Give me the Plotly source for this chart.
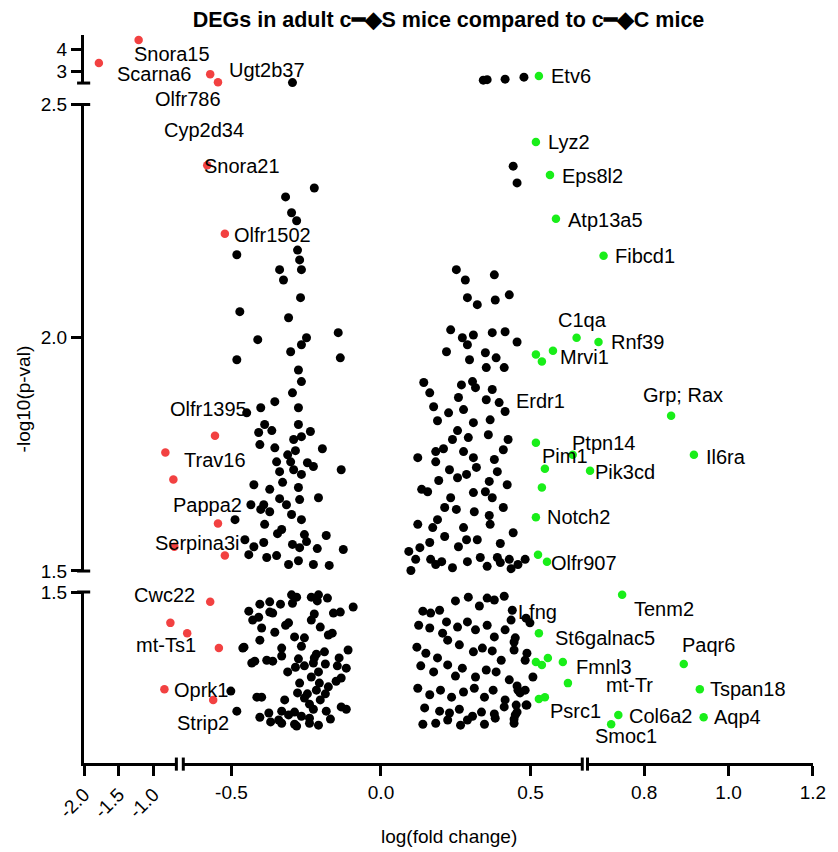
import plotly.graph_objects as go

FONT = "Liberation Sans, Arial, sans-serif"

# ---------------- data (log fold change, -log10 p) ----------------
black_left = [
    (-0.296, 2.52),
    (-0.223, 2.321), (-0.319, 2.302), (-0.299, 2.268), (-0.282, 2.251), (-0.482, 2.178), (-0.279, 2.188), (-0.272, 2.167), (-0.339, 2.146), (-0.326, 2.124), (-0.266, 2.146),
    (-0.269, 2.086), (-0.143, 2.011), (-0.472, 2.056), (-0.309, 2.043), (-0.412, 1.996), (-0.249, 2.000), (-0.482, 1.953), (-0.266, 1.985), (-0.302, 1.970), (-0.276, 1.931),
    (-0.266, 1.906), (-0.136, 1.957), (-0.296, 1.882), (-0.355, 1.863), (-0.402, 1.850), (-0.276, 1.850), (-0.449, 1.839), (-0.389, 1.814), (-0.409, 1.797), (-0.276, 1.814),
    (-0.365, 1.801), (-0.292, 1.782), (-0.266, 1.788), (-0.405, 1.771), (-0.355, 1.764), (-0.349, 1.734), (-0.236, 1.799), (-0.312, 1.749), (-0.286, 1.758), (-0.302, 1.734),
    (-0.196, 1.762), (-0.246, 1.732), (-0.266, 1.707), (-0.339, 1.713), (-0.292, 1.717), (-0.226, 1.724), (-0.133, 1.717), (-0.329, 1.690), (-0.372, 1.675), (-0.425, 1.685),
    (-0.276, 1.679), (-0.272, 1.653), (-0.392, 1.642), (-0.339, 1.655), (-0.316, 1.642), (-0.209, 1.657), (-0.488, 1.610), (-0.435, 1.642), (-0.402, 1.632), (-0.372, 1.627),
    (-0.299, 1.621), (-0.266, 1.610), (-0.389, 1.600), (-0.256, 1.578), (-0.346, 1.580), (-0.332, 1.589), (-0.455, 1.567), (-0.392, 1.561), (-0.425, 1.552), (-0.296, 1.557),
    (-0.272, 1.550), (-0.249, 1.563), (-0.213, 1.548), (-0.183, 1.576), (-0.126, 1.546), (-0.442, 1.535), (-0.382, 1.529), (-0.349, 1.533), (-0.309, 1.514), (-0.276, 1.522),
    (-0.226, 1.514), (-0.173, 1.512),
    (-0.282, 1.489), (-0.296, 1.476), (-0.213, 1.481), (-0.179, 1.487), (-0.405, 1.474), (-0.442, 1.459), (-0.372, 1.457), (-0.336, 1.474), (-0.309, 1.434), (-0.223, 1.453),
    (-0.233, 1.440), (-0.203, 1.425), (-0.136, 1.457), (-0.319, 1.429), (-0.256, 1.402), (-0.289, 1.404), (-0.355, 1.414), (-0.163, 1.412), (-0.429, 1.440), (-0.399, 1.423),
    (-0.405, 1.397), (-0.458, 1.382), (-0.332, 1.380), (-0.266, 1.384), (-0.216, 1.367), (-0.332, 1.363), (-0.276, 1.357), (-0.223, 1.359), (-0.189, 1.372), (-0.140, 1.359),
    (-0.422, 1.352), (-0.382, 1.354), (-0.362, 1.352), (-0.286, 1.339), (-0.256, 1.342), (-0.226, 1.348), (-0.209, 1.329), (-0.186, 1.346), (-0.146, 1.342), (-0.312, 1.329),
    (-0.272, 1.305), (-0.233, 1.318), (-0.216, 1.290), (-0.206, 1.305), (-0.279, 1.284), (-0.246, 1.282), (-0.502, 1.288), (-0.415, 1.275), (-0.399, 1.275), (-0.482, 1.245),
    (-0.375, 1.241), (-0.332, 1.245), (-0.289, 1.243), (-0.266, 1.234), (-0.226, 1.249), (-0.183, 1.245), (-0.133, 1.254), (-0.116, 1.249), (-0.342, 1.226), (-0.309, 1.237),
    (-0.239, 1.230), (-0.169, 1.228), (-0.239, 1.219), (-0.289, 1.217), (-0.369, 1.222), (-0.405, 1.232), (-0.256, 1.273), (-0.239, 1.260), (-0.203, 1.269), (-0.322, 1.269),
    (-0.186, 1.282), (-0.150, 1.309), (-0.176, 1.297), (-0.133, 1.316), (-0.462, 1.380),
    (-0.372, 1.479), (-0.299, 1.494), (-0.233, 1.489), (-0.209, 1.494), (-0.093, 1.468), (-0.362, 1.455), (-0.159, 1.455), (-0.432, 1.348), (-0.116, 1.337), (-0.110, 1.376),
    (-0.176, 1.408), (-0.409, 1.446), (-0.332, 1.219), (-0.282, 1.213), (-0.209, 1.215),
]

black_right = [
    (0.342, 2.63), (0.355, 2.65), (0.415, 2.674), (0.478, 2.763),
    (0.442, 2.368), (0.455, 2.332), (0.252, 2.146), (0.282, 2.124), (0.379, 2.135), (0.289, 2.086), (0.322, 2.071), (0.382, 2.081), (0.429, 2.092), (0.233, 2.017),
    (0.309, 2.006), (0.272, 2.000), (0.372, 2.011), (0.415, 2.013), (0.289, 1.985), (0.219, 1.970), (0.349, 1.968), (0.455, 1.991), (0.296, 1.953), (0.352, 1.936),
    (0.385, 1.957), (0.412, 1.936), (0.143, 1.904), (0.163, 1.882), (0.269, 1.899), (0.306, 1.906), (0.316, 1.893), (0.176, 1.852), (0.259, 1.872), (0.352, 1.867),
    (0.395, 1.861), (0.372, 1.889), (0.226, 1.839), (0.276, 1.846), (0.189, 1.822), (0.309, 1.818), (0.256, 1.801), (0.365, 1.824), (0.415, 1.842), (0.239, 1.782),
    (0.292, 1.786), (0.359, 1.792), (0.183, 1.756), (0.209, 1.762), (0.123, 1.743), (0.183, 1.734), (0.276, 1.756), (0.309, 1.743), (0.379, 1.739), (0.409, 1.760),
    (0.425, 1.782), (0.229, 1.717), (0.256, 1.700), (0.286, 1.707), (0.319, 1.722), (0.362, 1.692), (0.389, 1.713), (0.193, 1.694), (0.136, 1.675), (0.156, 1.670),
    (0.233, 1.657), (0.309, 1.668), (0.349, 1.670), (0.372, 1.657), (0.422, 1.685), (0.213, 1.636), (0.252, 1.632), (0.312, 1.627), (0.362, 1.619), (0.409, 1.636),
    (0.189, 1.610), (0.123, 1.600), (0.276, 1.593), (0.365, 1.600), (0.173, 1.593), (0.286, 1.567), (0.213, 1.574), (0.130, 1.550), (0.163, 1.561), (0.093, 1.542),
    (0.259, 1.552), (0.322, 1.567), (0.399, 1.559), (0.442, 1.582), (0.116, 1.525), (0.100, 1.501), (0.166, 1.525), (0.203, 1.520), (0.239, 1.507), (0.289, 1.520),
    (0.332, 1.529), (0.389, 1.529), (0.458, 1.514), (0.429, 1.525), (0.482, 1.525), (0.183, 1.514), (0.355, 1.510), (0.399, 1.518), (0.435, 1.505),
    (0.140, 1.459), (0.166, 1.455), (0.196, 1.461), (0.219, 1.436), (0.249, 1.481), (0.292, 1.489), (0.329, 1.470), (0.355, 1.487), (0.379, 1.483), (0.412, 1.491),
    (0.439, 1.461), (0.485, 1.444), (0.126, 1.429), (0.163, 1.423), (0.206, 1.412), (0.256, 1.425), (0.289, 1.436), (0.316, 1.419), (0.355, 1.429), (0.379, 1.404),
    (0.415, 1.419), (0.449, 1.402), (0.120, 1.382), (0.150, 1.369), (0.189, 1.359), (0.223, 1.397), (0.262, 1.387), (0.309, 1.372), (0.339, 1.380), (0.372, 1.374),
    (0.402, 1.354), (0.445, 1.376), (0.482, 1.354), (0.133, 1.342), (0.176, 1.329), (0.223, 1.344), (0.249, 1.320), (0.272, 1.337), (0.316, 1.318), (0.352, 1.333),
    (0.385, 1.329), (0.429, 1.312), (0.458, 1.290), (0.123, 1.294), (0.163, 1.280), (0.199, 1.290), (0.236, 1.275), (0.276, 1.286), (0.312, 1.294), (0.346, 1.275),
    (0.375, 1.290), (0.415, 1.269), (0.146, 1.252), (0.196, 1.245), (0.229, 1.241), (0.262, 1.249), (0.306, 1.234), (0.336, 1.243), (0.379, 1.239), (0.412, 1.254),
    (0.449, 1.237), (0.488, 1.258), (0.140, 1.217), (0.183, 1.219), (0.223, 1.226), (0.266, 1.215), (0.289, 1.226), (0.346, 1.217), (0.382, 1.230), (0.445, 1.228),
    (0.482, 1.290), (0.452, 1.258), (0.435, 1.440), (0.498, 1.434), (0.445, 1.393), (0.488, 1.369), (0.508, 1.318), (0.455, 1.299), (0.465, 1.284), (0.485, 1.258),
    (0.455, 1.243), (0.445, 1.219),
]

red_pts = [
    (-1.214, 4.415), (-1.786, 3.388), (-0.571, 2.897), (-0.545, 2.54), (-0.581, 2.370), (-0.522, 2.223),
    (-0.555, 1.790), (-0.829, 1.754), (-0.714, 1.696), (-0.545, 1.602), (-0.700, 1.552), (-0.522, 1.533),
    (-0.571, 1.479), (-0.757, 1.434), (-0.648, 1.412), (-0.542, 1.380), (-0.843, 1.292), (-0.561, 1.269),
]

green_pts = [
    (0.528, 2.81), (0.518, 2.420), (0.565, 2.349), (0.585, 2.255), (0.704, 2.176), (0.654, 2.000),
    (0.692, 1.991), (0.575, 1.972), (0.518, 1.964), (0.538, 1.949), (0.864, 1.833), (0.518, 1.775),
    (0.641, 1.749), (0.548, 1.719), (0.538, 1.679), (0.672, 1.715), (0.918, 1.749), (0.518, 1.615),
    (0.525, 1.535), (0.555, 1.520), (0.748, 1.494), (0.528, 1.412), (0.518, 1.350), (0.538, 1.344),
    (0.558, 1.359), (0.608, 1.350), (0.894, 1.346), (0.625, 1.305), (0.932, 1.292), (0.528, 1.271),
    (0.548, 1.275), (0.739, 1.237), (0.722, 1.217), (0.941, 1.232),
]

# gene labels: (text, x, y) — left ones centred, right ones start at x
left_labels = [
    ("Snora15", -0.729, 3.79), ("Scarna6", -0.986, 2.897), ("Ugt2b37", -0.382, 3.076),
    ("Olfr786", -0.645, 2.5), ("Cyp2d34", -0.591, 2.445), ("Snora21", -0.465, 2.368),
    ("Olfr1502", -0.362, 2.221), ("Olfr1395", -0.578, 1.848), ("Trav16", -0.555, 1.737),
    ("Pappa2", -0.581, 1.642), ("Serpina3i", -0.615, 1.561), ("Cwc22", -0.843, 1.494),
    ("mt-Ts1", -0.814, 1.387), ("Oprk1", -0.601, 1.290), ("Strip2", -0.595, 1.219),
]
right_labels = [
    ("Etv6", 0.561, 2.80), ("Lyz2", 0.551, 2.420), ("Eps8l2", 0.598, 2.347), ("Atp13a5", 0.618, 2.253),
    ("Fibcd1", 0.727, 2.176), ("C1qa", 0.585, 2.039), ("Rnf39", 0.718, 1.991), ("Mrvi1", 0.591, 1.959),
    ("Erdr1", 0.445, 1.865), ("Grp; Rax", 0.793, 1.878), ("Ptpn14", 0.631, 1.775), ("Pim1", 0.532, 1.747),
    ("Il6ra", 0.941, 1.745), ("Pik3cd", 0.680, 1.713), ("Notch2", 0.548, 1.615), ("Olfr907", 0.561, 1.518),
    ("Tenm2", 0.772, 1.464), ("Lfng", 0.452, 1.457), ("St6galnac5", 0.575, 1.402), ("Paqr6", 0.885, 1.387),
    ("Fmnl3", 0.645, 1.339), ("mt-Tr", 0.704, 1.301), ("Tspan18", 0.951, 1.292), ("Psrc1", 0.558, 1.245),
    ("Col6a2", 0.760, 1.234), ("Aqp4", 0.962, 1.232), ("Smoc1", 0.678, 1.192),
]

# broken-axis segments
x_ranges = [(-2.0, -0.671), (-0.661, 0.673), (0.666, 1.2001)]
y_ranges = [(1.134, 1.5001), (1.4999, 2.5001), (2.5, 4.64)]
x_ticks = [([-2.0, -1.5, -1.0], ["-2.0", "-1.5", "-1.0"]),
           ([-0.5, 0.0, 0.5], ["-0.5", "0.0", "0.5"]),
           ([0.8, 1.0, 1.2], ["0.8", "1.0", "1.2"])]
y_ticks = [([1.5], ["1.5"]), ([1.5, 2.0, 2.5], ["1.5", "2.0", "2.5"]), ([3, 4], ["3", "4"])]
x_domains = [(0.0, 0.1267), (0.1362, 0.6835), (0.6907, 1.0)]
y_domains = [(0.0, 0.2349), (0.2637, 0.9045), (0.934, 1.0)]


def xseg(x):
    return 0 if x < -0.666 else (1 if x <= 0.670 else 2)


def yseg(y):
    return 2 if y >= 2.5 else (1 if y >= 1.5 else 0)


def axn(p, i):
    return p if i == 0 else f"{p}{i + 1}"


fig = go.Figure()


def add_points(pts, color, size):
    cells = {}
    for x, y in pts:
        cx, cy = cells.setdefault((xseg(x), yseg(y)), ([], []))
        cx.append(x)
        cy.append(y)
    for (i, j), (cx, cy) in cells.items():
        fig.add_trace(go.Scatter(
            x=cx, y=cy, mode="markers", xaxis=axn("x", i), yaxis=axn("y", j),
            marker=dict(color=color, size=size, line=dict(width=0)),
            cliponaxis=False, showlegend=False, hoverinfo="skip"))


add_points(black_left, "black", 9)
add_points(black_right, "black", 9)
add_points(red_pts, "#f24141", 8.5)
add_points(green_pts, "#19ee19", 8.5)

annotations = []
for txt, x, y in left_labels:
    i, j = xseg(x), yseg(y)
    annotations.append(dict(text=txt, x=x, y=y, xref=axn("x", i), yref=axn("y", j),
                            showarrow=False, xanchor="center", yanchor="middle",
                            yshift=-16 if txt == "Olfr786" else 0,
                            font=dict(family=FONT, size=20, color="black")))
for txt, x, y in right_labels:
    i, j = xseg(x), yseg(y)
    annotations.append(dict(text=txt, x=x, y=y, xref=axn("x", i), yref=axn("y", j),
                            showarrow=False, xanchor="left", yanchor="middle",
                            font=dict(family=FONT, size=20, color="black")))

annotations.append(dict(text="log(fold change)", x=0.5, y=-0.1003, xref="paper", yref="paper",
                        showarrow=False, xanchor="center", yanchor="middle",
                        font=dict(family=FONT, size=19, color="black")))
annotations.append(dict(text="-log10(p-val)", x=-0.0831, y=0.5, xref="paper", yref="paper",
                        showarrow=False, textangle=-90, xanchor="center", yanchor="middle",
                        font=dict(family=FONT, size=19, color="black")))

axis_style = dict(showline=True, linecolor="black", linewidth=3, ticks="outside",
                  ticklen=10, tickwidth=3, tickcolor="black", showgrid=False,
                  zeroline=False, fixedrange=True,
                  tickfont=dict(family=FONT, size=19, color="black"))

FIG_W, FIG_H = 838, 852
layout = dict(
    width=FIG_W, height=FIG_H,
    margin=dict(l=84, r=20, t=35, b=89),
    paper_bgcolor="white", plot_bgcolor="white",
    title=dict(text="<b>DEGs in adult c━◆S mice compared to c━◆C mice</b>",
               x=0.5, xref="paper", y=1 - 19 / FIG_H, yanchor="middle", yref="container",
               font=dict(family=FONT, size=21.5, color="black")),
    annotations=annotations,
)
for i in range(3):
    layout[axn("xaxis", i)] = dict(axis_style, domain=list(x_domains[i]), range=list(x_ranges[i]),
                                   tickvals=x_ticks[i][0], ticktext=x_ticks[i][1], anchor="y",
                                   tickangle=-45 if i == 0 else 0)
    layout[axn("yaxis", i)] = dict(axis_style, domain=list(y_domains[i]), range=list(y_ranges[i]),
                                   tickvals=y_ticks[i][0], ticktext=y_ticks[i][1], anchor="x")

# end caps of the broken axis segments
shapes = []
for yc in [y_domains[0][1], y_domains[1][0], y_domains[1][1], y_domains[2][0]]:
    shapes.append(dict(type="line", xref="paper", yref="paper", x0=-0.0095, x1=0.0085,
                       y0=yc, y1=yc, line=dict(color="black", width=3)))
for xc in [x_domains[0][1], x_domains[1][0], x_domains[1][1], x_domains[2][0]]:
    shapes.append(dict(type="line", xref="paper", yref="paper", x0=xc, x1=xc,
                       y0=-0.0105, y1=0.0075, line=dict(color="black", width=3)))
layout["shapes"] = shapes

fig.update_layout(layout)
# remove the default page margin so the figure sits at the window's top-left corner
fig.write_html("out.html", config={"displayModeBar": False},
               post_script="document.body.style.margin='0';document.body.style.overflow='hidden';")
